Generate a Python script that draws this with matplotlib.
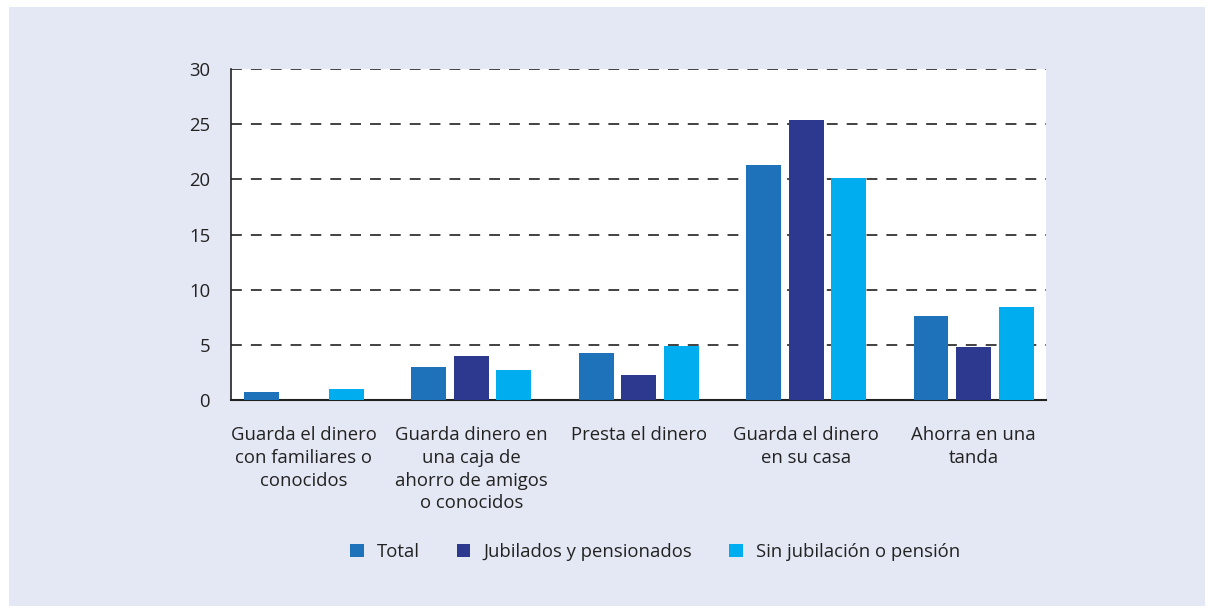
import numpy as np
import matplotlib.pyplot as plt
from matplotlib.patches import Rectangle

plt.rcParams['font.family'] = ['Open Sans', 'DejaVu Sans']

categories = [
    "Guarda el dinero\ncon familiares o\nconocidos",
    "Guarda dinero en\nuna caja de\nahorro de amigos\no conocidos",
    "Presta el dinero",
    "Guarda el dinero\nen su casa",
    "Ahorra en una\ntanda",
]
series_names = ["Total", "Jubilados y pensionados", "Sin jubilación o pensión"]
total = [0.7, 3.0, 4.3, 21.3, 7.6]
jubilados = [0.0, 4.0, 2.3, 25.4, 4.8]
sin_jubilacion = [1.0, 2.7, 4.9, 20.1, 8.4]
yticks = [0, 5, 10, 15, 20, 25, 30]

colors = ["#1e72b9", "#2d388f", "#00aeef"]
bg = "#e4e8f4"
fs = 13.3

fig = plt.figure(figsize=(12.14, 6.13), dpi=100)
fig.patch.set_facecolor("white")
fig.patches.append(Rectangle((9 / 1214, 7 / 613), 1196 / 1214, 599 / 613,
                             transform=fig.transFigure, facecolor=bg,
                             edgecolor="none", zorder=-10))

ax = fig.add_axes([231 / 1214, 1 - 400 / 613, 815 / 1214, 331 / 613])
ax.set_facecolor("white")

x = np.arange(len(categories))
w = 0.209
step = 0.254
for i, (vals, name) in enumerate(zip([total, jubilados, sin_jubilacion], series_names)):
    ax.bar(x + (i - 1) * step, vals, width=w, color=colors[i], label=name, zorder=3)

ax.set_xlim(-0.436, 4.433)
ax.set_ylim(0, 30)
ax.set_yticks(yticks)
ax.set_yticklabels([str(t) for t in yticks], fontsize=fs, color="#222222")
ax.set_xticks(x)
ax.set_xticklabels(categories, fontsize=fs, color="#222222", linespacing=1.33, va="top")
ax.tick_params(axis="both", length=0)
ax.tick_params(axis="y", pad=15)
ax.tick_params(axis="x", pad=19)

for t in yticks[1:]:
    ax.axhline(t, color="#333333", linewidth=1.3, linestyle=(0, (6, 5)), zorder=1)

for s in ["top", "right"]:
    ax.spines[s].set_visible(False)
ax.spines["left"].set_color("#222222")
ax.spines["bottom"].set_color("#222222")
ax.spines["left"].set_linewidth(1.2)
ax.spines["bottom"].set_linewidth(1.5)

leg = fig.legend(loc="center", bbox_to_anchor=(655 / 1214, 1 - 552 / 613), ncol=3,
                 frameon=False, fontsize=fs, handlelength=0.75, handleheight=0.75,
                 handletextpad=0.7, columnspacing=2.0)
for txt in leg.get_texts():
    txt.set_color("#222222")

fig.savefig("out.png", dpi=100, facecolor=fig.get_facecolor())
